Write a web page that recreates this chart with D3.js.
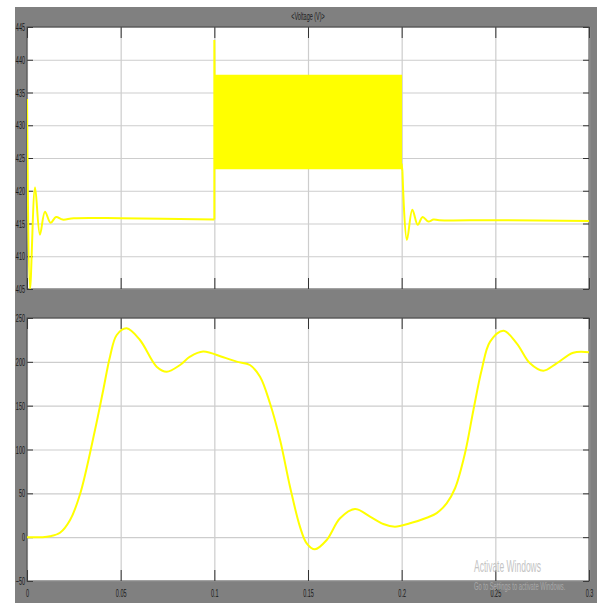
<!DOCTYPE html>
<html lang="en">
<head>
    <meta charset="UTF-8">
    <title>Voltage scope</title>
    <style>
        body{
            margin: 0;
            background: #fff;
            font-family: "Liberation Sans", Arial, sans-serif;
        }
        svg{
            display: block;
        }
        .axis text{
            font-size: 11px;
            fill: #1a1a1a;
        }
        .axis path{
            display: none;
        }
        .axis line{
            stroke: #333;
        }
        .grid line{
            stroke: #cdcdcd;
            stroke-width: 1.2;
        }
        .grid path{
            display: none;
        }
        .trace{
            fill: none;
            stroke: #ffff00;
            stroke-width: 2;
        }
    </style>
    <script src="https://cdn.jsdelivr.net/npm/d3@7"></script>
</head>
<body>
    <script>
        // top scope: voltage (V)
        var vTime = [0, 0.0016, 0.0043, 0.0069, 0.0096, 0.0126, 0.0155, 0.019, 0.025, 0.05, 0.1,
                     0.1, 0.1004, 0.2, 0.2004, 0.2028, 0.2057, 0.2086, 0.2112, 0.2142, 0.217, 0.22, 0.25, 0.3];
        var vVal = [434, 405, 420.5, 413.3, 416.8, 415.1, 416.0, 415.6, 415.8, 415.8, 415.6,
                    443, 424, 424, 423, 412.5, 417.1, 414.8, 416.0, 415.3, 415.6, 415.5, 415.5, 415.4];
        // fast ripple between 0.1 s and 0.2 s, drawn as its envelope
        var bandTime = [0.1, 0.2002];
        var bandHigh = [437.7, 437.7];
        var bandLow = [423.3, 423.3];

        // bottom scope
        var sTime = [0, 0.008, 0.0123, 0.0176, 0.023, 0.0283, 0.0363, 0.0407, 0.0443, 0.0479, 0.0532,
                     0.0603, 0.0692, 0.0746, 0.0817, 0.087, 0.094, 0.1048, 0.1119, 0.119, 0.1244, 0.1297,
                     0.1351, 0.1404, 0.1457, 0.1493, 0.1537, 0.16, 0.1671, 0.1751, 0.1831, 0.1902, 0.1964,
                     0.2044, 0.2134, 0.2187, 0.224, 0.2285, 0.2338, 0.2383, 0.2427, 0.2472, 0.2543, 0.2614,
                     0.2685, 0.2756, 0.2827, 0.2916, 0.3];
        var sVal = [0, 0, 1, 5, 19.6, 48.9, 122.3, 167.9, 205.9, 230.6, 238.3,
                    224.9, 194.5, 188.8, 196.4, 205.9, 211.8, 205.2, 200.2, 196.4, 183.0, 152.7,
                    110.8, 57.6, 12.0, -7.0, -13.8, -3.2, 21.5, 32.1, 23.4, 15.0, 12.0,
                    15.8, 22.2, 27.5, 38.6, 55.8, 95.7, 145.1, 190.7, 223.0, 235.5, 221.1,
                    198.3, 189.9, 198.3, 210.4, 210.9];

        var xTicks = [0, 0.05, 0.1, 0.15, 0.2, 0.25, 0.3];
        var xTickLabels = ["0", "0.05", "0.1", "0.15", "0.2", "0.25", "0.3"];
        var vTicks = [405, 410, 415, 420, 425, 430, 435, 440, 445];
        var sTicks = [-50, 0, 50, 100, 150, 200, 250];

        var W = 597, H = 603;
        var left = 27, right = 589;
        var topPanel = {y0: 27, y1: 289};
        var botPanel = {y0: 318, y1: 581};

        var svg = d3.select("body").append("svg")
                    .attr("width", W)
                    .attr("height", H);

        // grey scope frame
        svg.append("rect")
            .attr("x", 15).attr("y", 7)
            .attr("width", W - 15).attr("height", H - 7)
            .attr("fill", "#808080");

        svg.append("text")
            .attr("transform", "translate(308,20) scale(0.5,1)")
            .attr("text-anchor", "middle")
            .attr("font-size", 11)
            .attr("fill", "#1a1a1a")
            .text("<Voltage (V)>");

        var x = d3.scaleLinear().domain([0, 0.3]).range([left, right]);
        var yTop = d3.scaleLinear().domain([405, 445]).range([topPanel.y1, topPanel.y0]);
        var yBot = d3.scaleLinear().domain([-50, 250]).range([botPanel.y1, botPanel.y0]);

        function drawPanel(p, y, ticks, id, showX){
            var h = p.y1 - p.y0;
            var w = right - left;
            svg.append("rect")
                .attr("x", left).attr("y", p.y0)
                .attr("width", w).attr("height", h)
                .attr("fill", "#fff");
            svg.append("clipPath").attr("id", id)
                .append("rect")
                .attr("x", left).attr("y", p.y0)
                .attr("width", w).attr("height", h);

            // grid
            svg.append("g").attr("class", "grid")
                .attr("transform", "translate(0," + p.y1 + ")")
                .call(d3.axisBottom(x).tickValues(xTicks).tickSize(-h).tickFormat(""));
            svg.append("g").attr("class", "grid")
                .attr("transform", "translate(" + left + ",0)")
                .call(d3.axisLeft(y).tickValues(ticks).tickSize(-w).tickFormat(""));

            // inward ticks
            var la = svg.append("g").attr("class", "axis")
                .attr("transform", "translate(" + left + ",0)")
                .call(d3.axisLeft(y).tickValues(ticks).tickSize(-6).tickPadding(4).tickFormat(d3.format("d")));
            svg.append("g").attr("class", "axis")
                .attr("transform", "translate(" + right + ",0)")
                .call(d3.axisRight(y).tickValues(ticks).tickSize(-6).tickFormat(""));
            svg.append("g").attr("class", "axis")
                .attr("transform", "translate(0," + p.y0 + ")")
                .call(d3.axisTop(x).tickValues(xTicks).tickSize(-11).tickFormat(""));
            var ba = svg.append("g").attr("class", "axis")
                .attr("transform", "translate(0," + p.y1 + ")")
                .call(d3.axisBottom(x).tickValues(xTicks).tickSize(-11).tickPadding(8)
                      .tickFormat(function(d, i){ return showX ? xTickLabels[i] : ""; }));
            la.selectAll("text").attr("transform", "scale(0.5,1)");
            ba.selectAll("text").attr("transform", "scale(0.5,1)");

            svg.append("rect")
                .attr("x", left).attr("y", p.y0)
                .attr("width", w).attr("height", h)
                .attr("fill", "none")
                .attr("stroke", "#444");

            return svg.append("g").attr("clip-path", "url(#" + id + ")");
        }

        var gTop = drawPanel(topPanel, yTop, vTicks, "clipTop", false);
        var gBot = drawPanel(botPanel, yBot, sTicks, "clipBot", true);

        var band = d3.area()
            .x(function(d){ return x(d[0]); })
            .y0(function(d){ return yTop(d[2]); })
            .y1(function(d){ return yTop(d[1]); });
        var bandData = [];
        for(var i=0; i<bandTime.length; i++){
            bandData.push([bandTime[i], bandHigh[i], bandLow[i]]);
        }
        gTop.append("path")
            .attr("d", band(bandData))
            .attr("fill", "#ffff00");

        var vData = [];
        for(i=0; i<vTime.length; i++){
            vData.push([vTime[i], vVal[i]]);
        }
        var vSmooth = d3.line()
                .curve(d3.curveCatmullRom)
                .x(function(d){ return x(d[0]); })
                .y(function(d){ return yTop(d[1]); });
        var vSharp = d3.line()
                .x(function(d){ return x(d[0]); })
                .y(function(d){ return yTop(d[1]); });
        // settling before the step, the step spike itself, settling after
        gTop.append("path").attr("class", "trace").attr("d", vSmooth(vData.slice(0, 11)));
        gTop.append("path").attr("class", "trace").attr("d", vSharp(vData.slice(10, 15)));
        gTop.append("path").attr("class", "trace").attr("d", vSmooth(vData.slice(14)));

        var sData = [];
        for(i=0; i<sTime.length; i++){
            sData.push([sTime[i], sVal[i]]);
        }
        gBot.append("path")
            .attr("class", "trace")
            .attr("d", d3.line()
                .curve(d3.curveCatmullRom)
                .x(function(d){ return x(d[0]); })
                .y(function(d){ return yBot(d[1]); })(sData));

        // watermark left on the screenshot
        svg.append("text")
            .attr("transform", "translate(474,572) scale(0.5,1)")
            .attr("font-size", 17)
            .attr("fill", "#c4c4c4")
            .text("Activate Windows");
        svg.append("text")
            .attr("transform", "translate(474,590) scale(0.58,1)")
            .attr("font-size", 10)
            .attr("fill", "#a9a9a9")
            .text("Go to Settings to activate Windows.");
    </script>
</body>
</html>
